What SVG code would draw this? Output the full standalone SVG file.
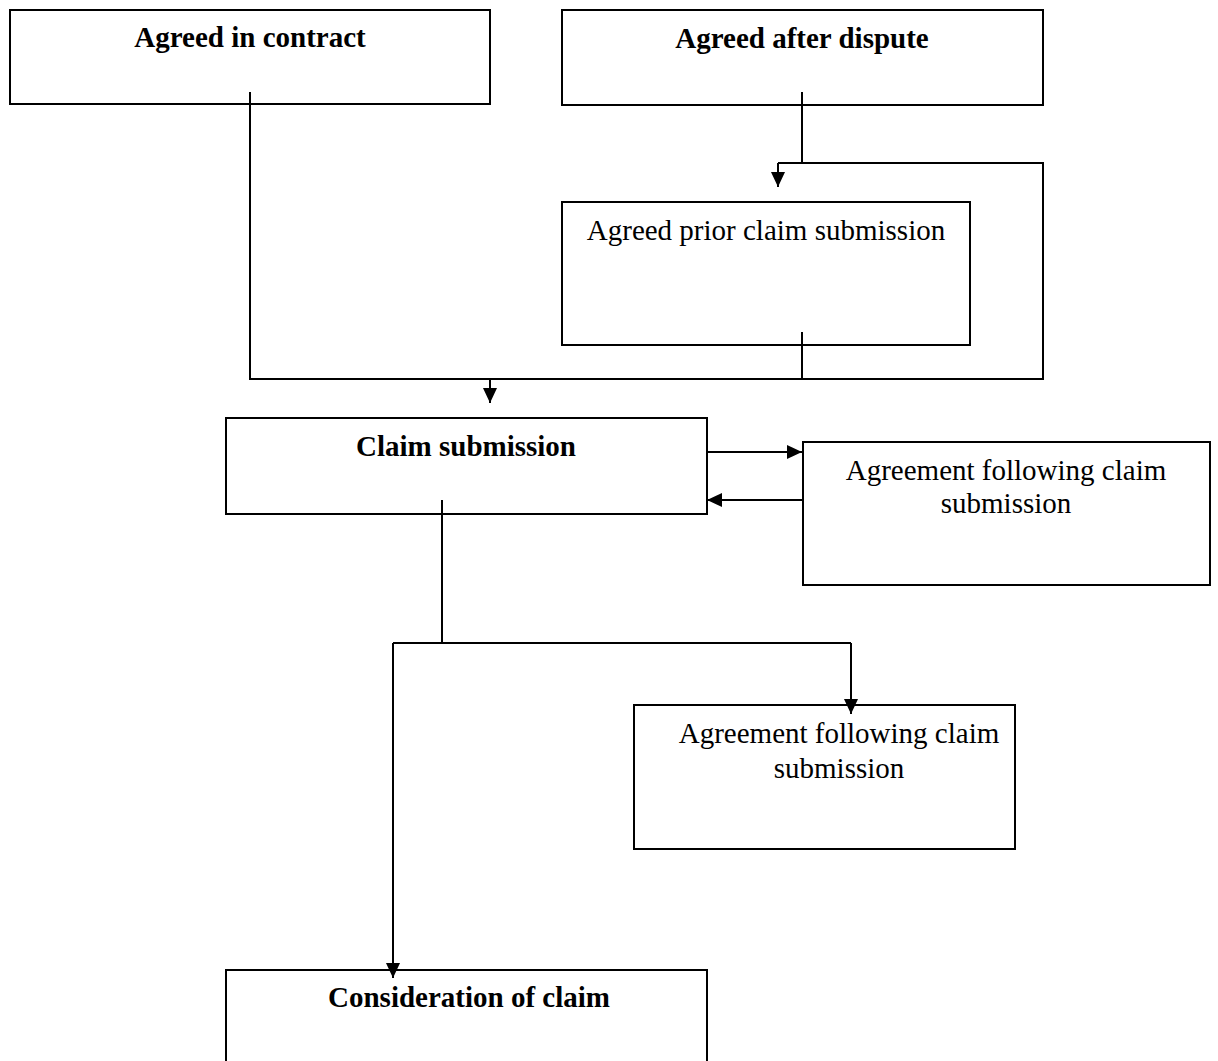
<svg xmlns="http://www.w3.org/2000/svg" width="1218" height="1061" viewBox="0 0 1218 1061">
<style>
.box{fill:#fff;stroke:#000;stroke-width:2}
.t{font-family:"Liberation Serif","Times New Roman",serif;font-size:29px;fill:#000;text-anchor:middle}
.b{font-weight:bold}
.c{fill:none;stroke:#000;stroke-width:2}
</style>
<defs>
<marker id="ah" viewBox="0 0 15 14" refX="15" refY="7" markerWidth="15" markerHeight="14" markerUnits="userSpaceOnUse" orient="auto">
<path d="M0,0 L15,7 L0,14 Z" fill="#000"/>
</marker>
</defs>
<rect width="1218" height="1061" fill="#fff"/>
<g id="n1"><rect class="box" x="10" y="10" width="480" height="94"/><text class="t b" x="250" y="47">Agreed in contract</text></g>
<g id="n2"><rect class="box" x="562" y="10" width="481" height="95"/><text class="t b" x="802" y="48">Agreed after dispute</text></g>
<g id="n3"><rect class="box" x="562" y="202" width="408" height="143"/><text class="t" x="766" y="240">Agreed prior claim submission</text></g>
<g id="n4"><rect class="box" x="226" y="418" width="481" height="96"/><text class="t b" x="466" y="456">Claim submission</text></g>
<g id="n5"><rect class="box" x="803" y="442" width="407" height="143"/><text class="t" x="1006" y="480">Agreement following claim</text><text class="t" x="1006" y="513">submission</text></g>
<g id="n6"><rect class="box" x="634" y="705" width="381" height="144"/><text class="t" x="839" y="743">Agreement following claim</text><text class="t" x="839" y="778">submission</text></g>
<g id="n7"><rect class="box" x="226" y="970" width="481" height="120"/><text class="t b" x="469" y="1007">Consideration of claim</text></g>
<g id="connectors">
<path class="c" d="M250,92 V379 H1043 V163 H778"/>
<path class="c" d="M778,163 V187" marker-end="url(#ah)"/>
<path class="c" d="M802,92 V163"/>
<path class="c" d="M802,332 V379"/>
<path class="c" d="M490,379 V403" marker-end="url(#ah)"/>
<path class="c" d="M707,452 H802" marker-end="url(#ah)"/>
<path class="c" d="M802,500 H707" marker-end="url(#ah)"/>
<path class="c" d="M442,500 V643"/>
<path class="c" d="M393,643 H851"/>
<path class="c" d="M851,643 V714" marker-end="url(#ah)"/>
<path class="c" d="M393,643 V978" stroke-width="2.5" marker-end="url(#ah)"/>
</g>
</svg>
